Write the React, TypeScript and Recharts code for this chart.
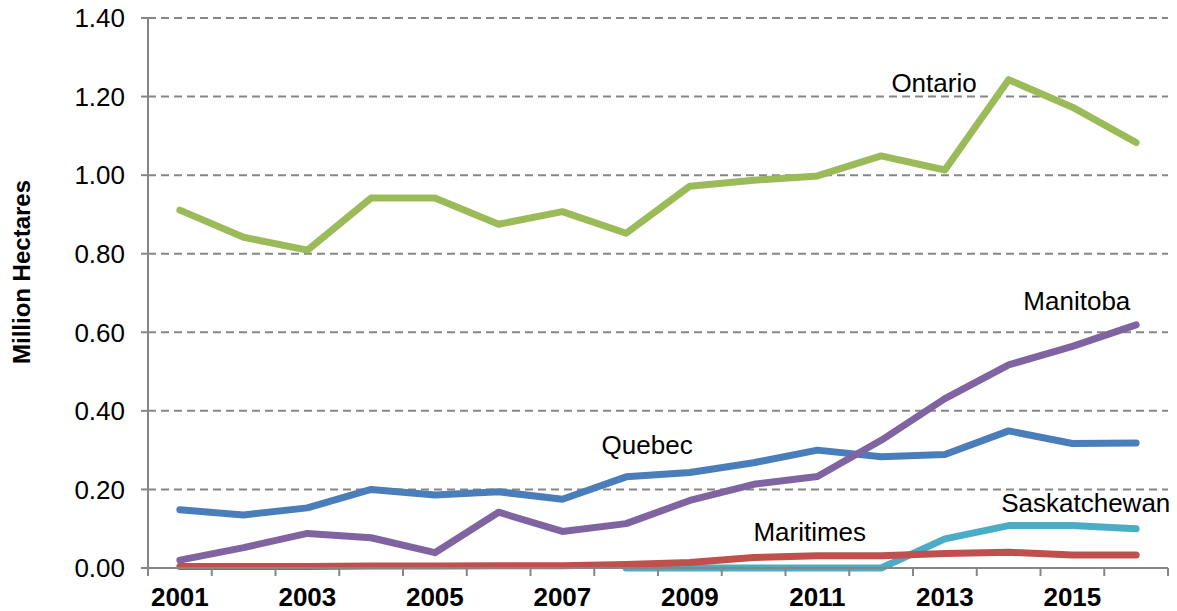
import { CartesianGrid, Label, Line, LineChart, ReferenceDot, XAxis, YAxis } from "recharts";

const YEARS = [2001, 2002, 2003, 2004, 2005, 2006, 2007, 2008, 2009, 2010, 2011, 2012, 2013, 2014, 2015, 2016];
const ONTARIO = [0.911, 0.842, 0.809, 0.942, 0.942, 0.875, 0.907, 0.852, 0.972, 0.987, 0.998, 1.049, 1.013, 1.243, 1.173, 1.083];
const QUEBEC = [0.148, 0.135, 0.153, 0.2, 0.186, 0.194, 0.175, 0.232, 0.243, 0.268, 0.3, 0.283, 0.289, 0.349, 0.317, 0.318];
const MANITOBA = [0.02, 0.052, 0.088, 0.077, 0.039, 0.142, 0.093, 0.113, 0.172, 0.213, 0.233, 0.325, 0.431, 0.517, 0.564, 0.619];
const SASKATCHEWAN = [null, null, null, null, null, null, null, 0, 0, 0, 0, 0, 0.074, 0.108, 0.108, 0.1];
const MARITIMES = [0.004, 0.004, 0.004, 0.005, 0.005, 0.006, 0.006, 0.009, 0.014, 0.027, 0.031, 0.031, 0.037, 0.04, 0.033, 0.033];

const Y_TICKS = [0, 0.2, 0.4, 0.6, 0.8, 1.0, 1.2, 1.4];
const LABELED_YEARS = [2001, 2003, 2005, 2007, 2009, 2011, 2013, 2015];

// series label annotations (year, value)
const SERIES_LABELS = [
  { name: "Ontario", x: 2012.83, y: 1.234 },
  { name: "Manitoba", x: 2015.07, y: 0.68 },
  { name: "Quebec", x: 2008.33, y: 0.313 },
  { name: "Saskatchewan", x: 2015.21, y: 0.165 },
  { name: "Maritimes", x: 2010.88, y: 0.092 },
];

const data = YEARS.map((year, i) => ({
  year,
  ontario: ONTARIO[i],
  quebec: QUEBEC[i],
  manitoba: MANITOBA[i],
  saskatchewan: SASKATCHEWAN[i],
  maritimes: MARITIMES[i],
}));

// tick marks sit between years, labels on odd years
const boundaries = [YEARS[0] - 0.5, ...YEARS.map((y) => y + 0.5)];
const xTicks = [...boundaries, ...LABELED_YEARS].sort((a, b) => a - b);

const AXIS_GRAY = "#868686";
const FONT = "'Liberation Sans', Arial, sans-serif";

function XTick(props: any) {
  const { x, y, payload } = props;
  const v = payload.value as number;
  if (v % 1 !== 0) {
    return <line x1={x} x2={x} y1={y - 8} y2={y} stroke={AXIS_GRAY} strokeWidth={2} />;
  }
  return (
    <text x={x} y={y + 30} textAnchor="middle" fontSize={26} fontWeight="bold" fill="#000">
      {v}
    </text>
  );
}

export default function App() {
  return (
    <div style={{ position: "absolute", left: 0, top: 0, fontFamily: FONT }}>
      <LineChart width={1177} height={611} data={data} margin={{ top: 18, right: 9, left: 0, bottom: 0 }}>
        <CartesianGrid vertical={false} stroke={AXIS_GRAY} strokeWidth={2} strokeDasharray="8 5" />
        <XAxis
          dataKey="year"
          type="number"
          domain={[YEARS[0] - 0.5, YEARS[YEARS.length - 1] + 0.5]}
          ticks={xTicks}
          interval={0}
          height={43}
          tickSize={8}
          tickMargin={0}
          tickLine={false}
          axisLine={{ stroke: AXIS_GRAY, strokeWidth: 2 }}
          tick={<XTick />}
        />
        <YAxis
          type="number"
          domain={[0, 1.4]}
          ticks={Y_TICKS}
          width={148}
          tickSize={7}
          tickMargin={16}
          tickFormatter={(v: number) => v.toFixed(2)}
          tick={{ fill: "#000", fontSize: 26 }}
          axisLine={{ stroke: AXIS_GRAY, strokeWidth: 2 }}
          tickLine={{ stroke: AXIS_GRAY, strokeWidth: 2 }}
        >
          <Label
            content={({ viewBox }: any) => {
              const cx = 21;
              const cy = viewBox.y + viewBox.height / 2 - 21;
              return (
                <text
                  x={cx}
                  y={cy}
                  transform={`rotate(-90 ${cx} ${cy})`}
                  textAnchor="middle"
                  dominantBaseline="central"
                  fontSize={24}
                  fontWeight="bold"
                  fill="#000"
                >
                  Million Hectares
                </text>
              );
            }}
          />
        </YAxis>
        <Line dataKey="ontario" stroke="#9BBB59" strokeWidth={7} dot={false} strokeLinecap="round" strokeLinejoin="round" isAnimationActive={false} />
        <Line dataKey="quebec" stroke="#4A7EBB" strokeWidth={7} dot={false} strokeLinecap="round" strokeLinejoin="round" isAnimationActive={false} />
        <Line dataKey="manitoba" stroke="#8064A2" strokeWidth={7} dot={false} strokeLinecap="round" strokeLinejoin="round" isAnimationActive={false} />
        <Line dataKey="saskatchewan" stroke="#4BACC6" strokeWidth={7} dot={false} strokeLinecap="round" strokeLinejoin="round" isAnimationActive={false} />
        <Line dataKey="maritimes" stroke="#C0504D" strokeWidth={7} dot={false} strokeLinecap="round" strokeLinejoin="round" isAnimationActive={false} />
        {SERIES_LABELS.map((s) => (
          <ReferenceDot
            key={s.name}
            x={s.x}
            y={s.y}
            r={0}
            fill="none"
            stroke="none"
            label={{ value: s.name, position: "center", fontSize: 26, fill: "#000" }}
          />
        ))}
      </LineChart>
    </div>
  );
}
